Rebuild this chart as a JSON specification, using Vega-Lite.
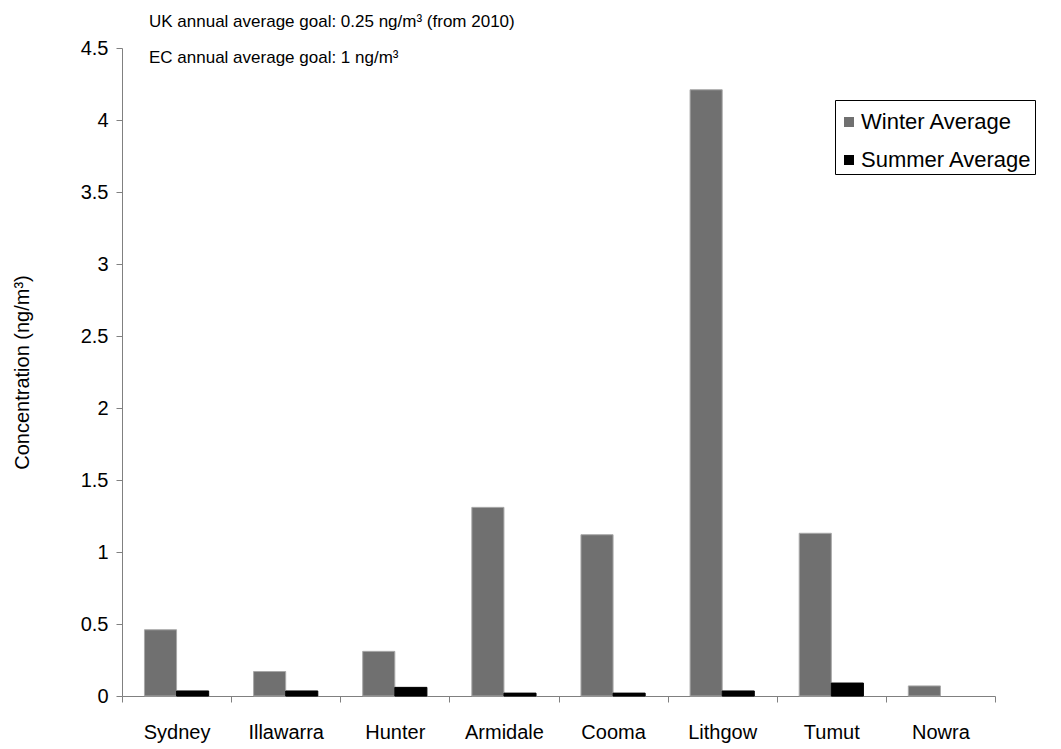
{
  "$schema": "https://vega.github.io/schema/vega-lite/v6.json",
  "width": 873,
  "height": 648,
  "autosize": "none",
  "padding": {"left": 122, "top": 48, "right": 66, "bottom": 53},
  "background": "white",
  "config": {
    "font": "Liberation Sans",
    "view": {"stroke": null}
  },
  "title": {
    "text": ["UK annual average goal: 0.25 ng/m³ (from 2010)", "EC annual average goal: 1 ng/m³"],
    "anchor": "start",
    "frame": "group",
    "baseline": "alphabetic",
    "lineHeight": 36,
    "fontSize": 17,
    "fontWeight": "normal",
    "font": "Liberation Sans",
    "color": "black",
    "offset": 0,
    "dx": 27,
    "dy": 42
  },
  "data": {
    "values": [
      {"site": "Sydney", "season": "Winter Average", "value": 0.46},
      {"site": "Sydney", "season": "Summer Average", "value": 0.035},
      {"site": "Illawarra", "season": "Winter Average", "value": 0.17},
      {"site": "Illawarra", "season": "Summer Average", "value": 0.035},
      {"site": "Hunter", "season": "Winter Average", "value": 0.31},
      {"site": "Hunter", "season": "Summer Average", "value": 0.06},
      {"site": "Armidale", "season": "Winter Average", "value": 1.31},
      {"site": "Armidale", "season": "Summer Average", "value": 0.02},
      {"site": "Cooma", "season": "Winter Average", "value": 1.12},
      {"site": "Cooma", "season": "Summer Average", "value": 0.02},
      {"site": "Lithgow", "season": "Winter Average", "value": 4.21},
      {"site": "Lithgow", "season": "Summer Average", "value": 0.035},
      {"site": "Tumut", "season": "Winter Average", "value": 1.13},
      {"site": "Tumut", "season": "Summer Average", "value": 0.09},
      {"site": "Nowra", "season": "Winter Average", "value": 0.07}
    ]
  },
  "mark": {"type": "bar", "strokeWidth": 1},
  "encoding": {
    "x": {
      "field": "site",
      "type": "nominal",
      "sort": ["Sydney", "Illawarra", "Hunter", "Armidale", "Cooma", "Lithgow", "Tumut", "Nowra"],
      "scale": {"paddingInner": 0, "paddingOuter": 0},
      "axis": {
        "title": null,
        "labelAngle": 0,
        "labelFontSize": 20,
        "labelColor": "black",
        "labelFont": "Liberation Sans",
        "labelPadding": 20,
        "tickBand": "extent",
        "tickSize": 6,
        "tickColor": "#808080",
        "domainColor": "#808080",
        "grid": false
      }
    },
    "xOffset": {
      "field": "season",
      "type": "nominal",
      "sort": ["Winter Average", "Summer Average"],
      "scale": {"paddingInner": 0, "paddingOuter": 0.7}
    },
    "y": {
      "field": "value",
      "type": "quantitative",
      "scale": {"domain": [0, 4.5], "nice": false},
      "axis": {
        "title": "Concentration (ng/m³)",
        "titleFontSize": 20,
        "titleFontWeight": "normal",
        "titleColor": "black",
        "titleFont": "Liberation Sans",
        "titlePadding": 48,
        "values": [0, 0.5, 1, 1.5, 2, 2.5, 3, 3.5, 4, 4.5],
        "format": "~g",
        "labelFontSize": 20,
        "labelColor": "black",
        "labelFont": "Liberation Sans",
        "labelPadding": 8,
        "tickSize": 6,
        "tickColor": "#808080",
        "domainColor": "#808080",
        "grid": false
      }
    },
    "fill": {
      "field": "season",
      "type": "nominal",
      "sort": ["Winter Average", "Summer Average"],
      "scale": {"domain": ["Winter Average", "Summer Average"], "range": ["#707070", "#000000"]},
      "legend": {
        "title": "\u00a0",
        "titleFontSize": 8,
        "titlePadding": 0,
        "orient": "none",
        "legendX": 713,
        "legendY": 52,
        "symbolType": "square",
        "symbolSize": 100,
        "symbolStrokeWidth": 0,
        "labelFontSize": 22,
        "labelLimit": 400,
        "labelColor": "black",
        "labelFont": "Liberation Sans",
        "labelOffset": 1,
        "rowPadding": 16,
        "padding": 3,
        "strokeColor": "black",
        "fillColor": "white",
        "cornerRadius": 0
      }
    },
    "stroke": {
      "field": "season",
      "type": "nominal",
      "scale": {"domain": ["Winter Average", "Summer Average"], "range": ["#a8a8a8", "#000000"]},
      "legend": null
    }
  }
}
